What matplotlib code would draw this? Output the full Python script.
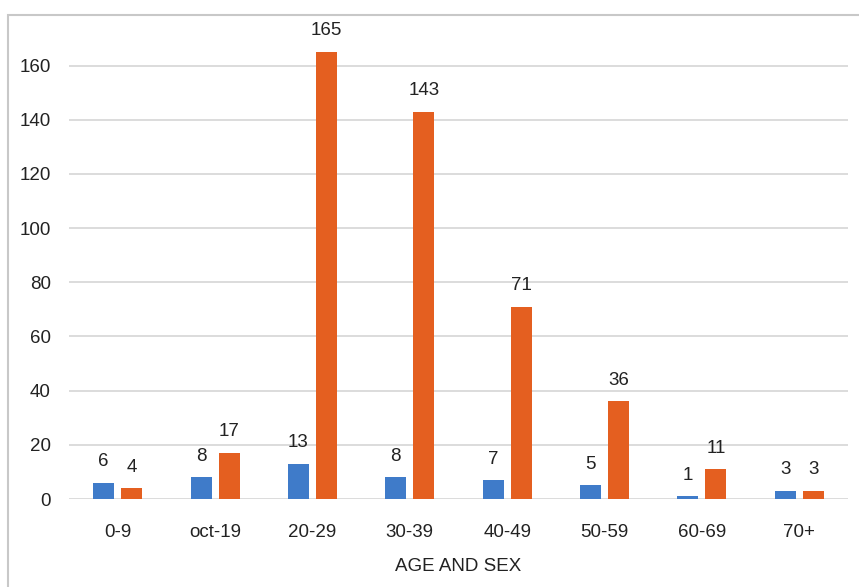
import matplotlib

matplotlib.use("Agg")
import matplotlib.pyplot as plt
from matplotlib.patches import Rectangle
import numpy as np

plt.rcParams["font.family"] = ["Liberation Sans", "DejaVu Sans"]

AGE_GROUPS = ["0-9", "oct-19", "20-29", "30-39", "40-49", "50-59", "60-69", "70+"]
SERIES_A = [6, 8, 13, 8, 7, 5, 1, 3]
SERIES_B = [4, 17, 165, 143, 71, 36, 11, 3]
Y_TICKS = [0, 20, 40, 60, 80, 100, 120, 140, 160]

BLUE = "#3F7BC9"
ORANGE = "#E45F20"
TEXT = "#222222"
FS = 13.5

fig = plt.figure(figsize=(8.59, 5.87), dpi=100)

# outer chart frame
fig.patches.append(Rectangle((8 / 859, -0.05), 1.1, 1 - 15 / 587 + 0.05,
                             transform=fig.transFigure, fill=False,
                             edgecolor="#C8C8C8", lw=1.5))

ax = fig.add_axes([69 / 859, 88 / 587, 779 / 859, 466 / 587])
x = np.arange(len(AGE_GROUPS))
w = 0.216
off = 0.144
bars_a = ax.bar(x - off, SERIES_A, w, color=BLUE, zorder=3)
bars_b = ax.bar(x + off, SERIES_B, w, color=ORANGE, zorder=3)

for bars in (bars_a, bars_b):
    ax.bar_label(bars, padding=9, fontsize=FS, color=TEXT)

ax.set_xlim(-0.5, len(AGE_GROUPS) - 0.5)
ax.set_ylim(0, 172)
ax.set_yticks(Y_TICKS)
ax.set_xticks(x, AGE_GROUPS)
ax.tick_params(axis="both", length=0, labelsize=FS, colors=TEXT)
ax.tick_params(axis="y", pad=13)
ax.tick_params(axis="x", pad=18)
for t in Y_TICKS:
    ax.axhline(t, color="#D9D9D9", lw=1.3, zorder=1)
for s in ax.spines.values():
    s.set_visible(False)
ax.set_xlabel("AGE AND SEX", fontsize=FS, color=TEXT, labelpad=12)

fig.savefig("out.png", dpi=100)
